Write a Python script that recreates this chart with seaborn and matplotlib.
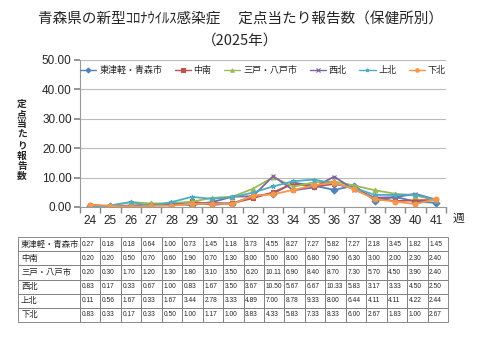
import matplotlib
matplotlib.use("Agg")
import matplotlib.pyplot as plt
import seaborn as sns
import pandas as pd
import numpy as np

weeks = [24, 25, 26, 27, 28, 29, 30, 31, 32, 33, 34, 35, 36, 37, 38, 39, 40, 41]
regions = ["東津軽・青森市", "中南", "三戸・八戸市", "西北", "上北", "下北"]
higashi = [0.27, 0.18, 0.18, 0.64, 1.00, 0.73, 1.45, 1.18, 3.73, 4.55, 8.27, 7.27, 5.82, 7.27, 2.18, 3.45, 1.82, 1.45]
chunan = [0.20, 0.20, 0.50, 0.70, 0.60, 1.90, 0.70, 1.30, 3.00, 5.00, 8.00, 6.80, 7.90, 6.30, 3.00, 2.00, 2.30, 2.40]
sannohe = [0.20, 0.30, 1.70, 1.20, 1.30, 1.80, 3.10, 3.50, 6.20, 10.11, 6.90, 8.40, 8.70, 7.30, 5.70, 4.50, 3.90, 2.40]
seihoku = [0.83, 0.17, 0.33, 0.67, 1.00, 0.83, 1.67, 3.50, 3.67, 10.50, 5.67, 6.67, 10.33, 5.83, 3.17, 3.33, 4.50, 2.50]
kamikita = [0.11, 0.56, 1.67, 0.33, 1.67, 3.44, 2.78, 3.33, 4.89, 7.00, 8.78, 9.33, 8.00, 6.44, 4.11, 4.11, 4.22, 2.44]
shimokita = [0.83, 0.33, 0.17, 0.33, 0.50, 1.00, 1.17, 1.00, 3.83, 4.33, 5.83, 7.33, 8.33, 6.00, 2.67, 1.83, 1.00, 2.67]
series = [higashi, chunan, sannohe, seihoku, kamikita, shimokita]
yticks = [0, 10, 20, 30, 40, 50]

colors = ["#4F81BD", "#C0504D", "#9BBB59", "#8064A2", "#4BACC6", "#F79646"]
markers = ["D", "s", "^", "x", "*", "o"]

sns.set_theme(style="white")
plt.rcParams['font.family'] = ['Noto Sans CJK JP', 'DejaVu Sans']

rows = []
for r, vals in zip(regions, series):
    for i, v in enumerate(vals):
        rows.append({"pos": i, "val": v, "region": r})
df = pd.DataFrame(rows)

fig = plt.figure(figsize=(4.8, 3.6), dpi=100)
ax = fig.add_axes([80/480, 1-207/360, 366/480, 147/360])

for r, c, m in zip(regions, colors, markers):
    sub = df[df["region"] == r]
    sns.lineplot(data=sub, x="pos", y="val", color=c, marker=m, label=r,
                 markersize=3.5, linewidth=1.3, markeredgewidth=0.8,
                 markeredgecolor=c, ax=ax)

ax.set_xlim(-0.5, len(weeks) - 0.5)
ax.set_ylim(0, 50)
ax.set_yticks(yticks)
ax.set_yticklabels([f"{v:.2f}" for v in yticks], fontsize=8.5, family=['Liberation Sans', 'DejaVu Sans'])
ax.set_xticks(range(len(weeks)))
ax.set_xticklabels([str(w) for w in weeks], fontsize=8.5, family=['Liberation Sans', 'DejaVu Sans'])
ax.set_xticks(np.arange(-0.5, len(weeks), 1), minor=True)
ax.tick_params(axis='x', which='major', length=0, pad=6)
ax.tick_params(axis='x', which='minor', length=4, color='#888888', direction='out', bottom=True)
ax.tick_params(axis='y', length=4, color='#888888', direction='out', pad=2, left=True)
ax.yaxis.grid(True, color='#BBBBBB', linewidth=0.8)
ax.set_axisbelow(True)
for s in ['top', 'right']:
    ax.spines[s].set_visible(False)
for s in ['left', 'bottom']:
    ax.spines[s].set_color('#999999')
    ax.spines[s].set_linewidth(0.8)
ax.set_xlabel("")
ax.set_ylabel("")

leg = ax.legend(loc='upper center', bbox_to_anchor=(0.5, 1.0), ncol=6, frameon=False,
                fontsize=6.5, handlelength=1.8, handletextpad=0.3, columnspacing=1.4,
                borderaxespad=0.3)
for h in leg.legend_handles:
    h.set_markersize(2.5)
    h.set_linewidth(1.0)

fig.text(0.5, 1-20/360, "青森県の新型ｺﾛﾅｳｲﾙｽ感染症　 定点当たり報告数（保健所別）",
         ha='center', va='center', fontsize=10.5)
fig.text(0.5, 1-41/360, "（2025年）", ha='center', va='center', fontsize=10.5)
fig.text(22/480, 1-140/360, "\n".join("定点当たり報告数"), ha='center', va='center',
         fontsize=7, fontweight='bold', linespacing=1.05)
fig.text(458/480, 1-218/360, "週", ha='center', va='center', fontsize=8.5)

# table
tax = fig.add_axes([18/480, 1-322/360, 430/480, 85/360])
tax.axis('off')
cell_text = [[r] + [f"{v:.2f}" for v in vals] for r, vals in zip(regions, series)]
first_w = 62/430
other_w = (1 - first_w) / len(weeks)
tbl = tax.table(cellText=cell_text, cellLoc='left', loc='center', bbox=[0, 0, 1, 1],
                colWidths=[first_w] + [other_w]*len(weeks))
tbl.auto_set_font_size(False)
for (r, c), cell in tbl.get_celld().items():
    cell.set_edgecolor('#777777')
    cell.set_linewidth(0.6)
    txt = cell.get_text()
    if c == 0:
        txt.set_fontsize(6)
        cell.PAD = 0.05
    else:
        txt.set_fontsize(4.8)
        txt.set_family(['Liberation Sans', 'DejaVu Sans'])
        cell.PAD = 0.08

fig.savefig("out.png", dpi=100)
